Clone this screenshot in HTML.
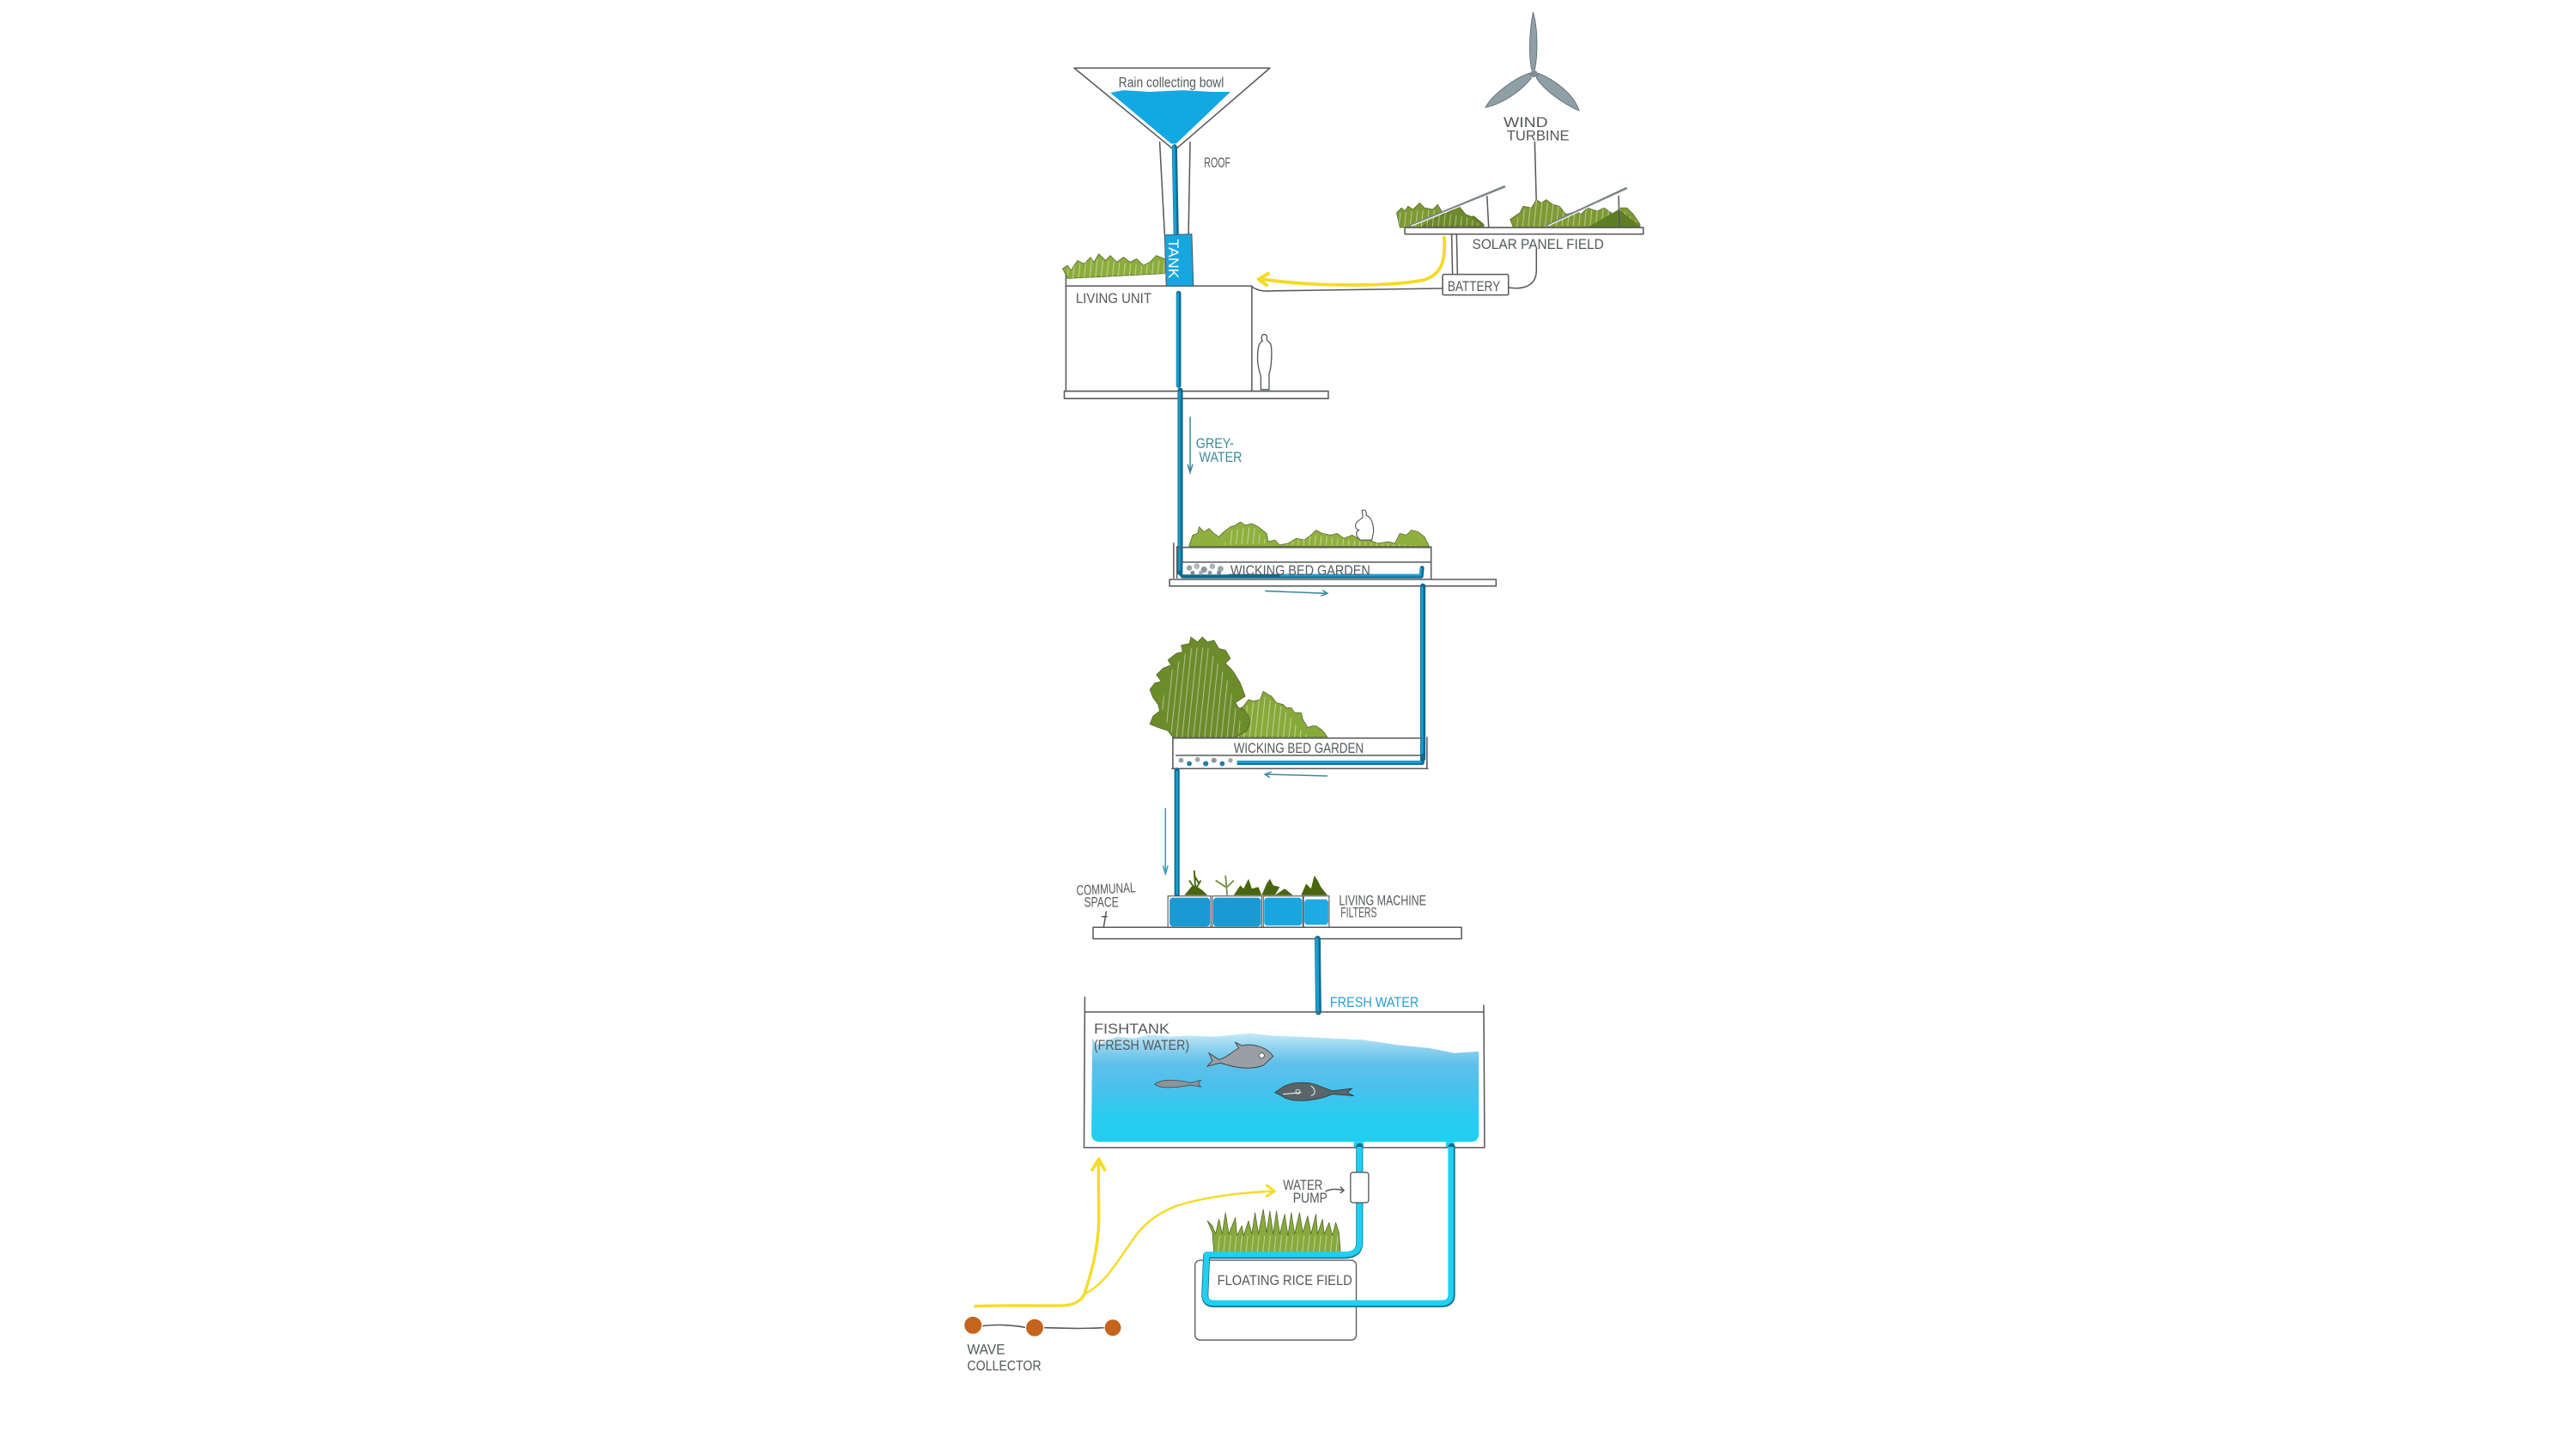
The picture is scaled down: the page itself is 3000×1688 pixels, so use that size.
<!DOCTYPE html>
<html lang="en">
<head>
<meta charset="utf-8">
<title>Water and energy cycle section</title>
<style>
html,body{margin:0;padding:0;background:#fff;width:3000px;height:1688px;overflow:hidden}
svg{display:block}
text{font-family:"Liberation Sans",sans-serif;fill:#55595c;font-size:8.5px}
.ln{fill:none;stroke:#55595c;stroke-width:.8;stroke-linejoin:round;stroke-linecap:round}
.box{fill:#fff;stroke:#55595c;stroke-width:.8;stroke-linejoin:round}
.leaf{stroke:#4c5a24;stroke-width:.35;stroke-linejoin:round}
.hatch{fill:url(#hatch);stroke:none}
.pipeo{fill:none;stroke:#0f6a8e;stroke-linecap:round;stroke-linejoin:round}
.pipei{fill:none;stroke:#1a9ed2;stroke-linecap:round;stroke-linejoin:round}
</style>
</head>
<body>
<svg xmlns="http://www.w3.org/2000/svg" width="3000" height="1688" viewBox="1 0.7 1566 881">
<defs>
<pattern id="hatch" width="3.4" height="40" patternUnits="userSpaceOnUse" patternTransform="rotate(6)">
<line x1="1" y1="0" x2="1" y2="40" stroke="#fff" stroke-width=".5" stroke-opacity=".5"/>
</pattern>
<linearGradient id="water" x1="0" y1="0" x2="0" y2="1">
<stop offset="0" stop-color="#c6e9f7"/>
<stop offset=".12" stop-color="#93d4f0"/>
<stop offset=".28" stop-color="#5fc0ea"/>
<stop offset=".48" stop-color="#4cc0ec"/>
<stop offset=".75" stop-color="#2bcbef"/>
<stop offset="1" stop-color="#1fd0f0"/>
</linearGradient>
</defs>

<rect x="0" y="0" width="1568" height="883" fill="#fff"/>

<!-- rain bowl -->
<g>
<path class="ln" d="M706,87 L709,143 M724.5,87 L723.5,143"/>
<polygon class="box" points="654,42 773,42 715,92"/>
<polygon points="676,57 684,55.5 700,56.5 720,55.5 738,56.5 749,56.5 716,88 713,88" fill="#12a8e2"/>
<path class="pipeo" stroke-width="3.2" d="M715,90 L716,143"/>
<path class="pipei" stroke-width="1.7" d="M714.5,90 L715.5,143"/>
<text x="681" y="53.5" textLength="64" lengthAdjust="spacingAndGlyphs" font-size="8">Rain collecting bowl</text>
<text x="733" y="102.5" textLength="16" lengthAdjust="spacingAndGlyphs">ROOF</text>
</g>

<!-- wind turbine -->
<g>
<path d="M933,8 C936,18 936,34 934,43 L932,43 C930,32 931,18 933,8Z" fill="#8f9fa6" stroke="#5a666b" stroke-width=".4"/>
<path d="M904,66 C908,58 922,48 931,45 L932,48 C926,56 914,64 904,66Z" fill="#8f9fa6" stroke="#5a666b" stroke-width=".4"/>
<path d="M961,68 C952,64 940,56 935,48 L936,45 C946,49 958,58 961,68Z" fill="#8f9fa6" stroke="#5a666b" stroke-width=".4"/>
<circle cx="933.5" cy="45.5" r="2.2" fill="#7f8e94"/>
<text x="915" y="78" textLength="27" lengthAdjust="spacingAndGlyphs" font-size="10">WIND</text>
<text x="917" y="86" textLength="38" lengthAdjust="spacingAndGlyphs" font-size="10">TURBINE</text>
<path class="ln" d="M934,87 L935,124"/>
</g>

<!-- solar field -->
<g>
<polygon class="leaf" fill="#7d9a33" points="850,130 853,127 855,129 857,126 860,128 864,124 867,127 872,128 875,125 878,130 884,131 889,128 893,133 897,132 903,137 903,139 852,139"/>
<polygon class="leaf" fill="#6d8a2c" points="866,138 888,126 892,131 897,133 903,138"/>
<polygon class="leaf" fill="#7d9a33" points="919,134 925,130 927,126 932,127 935,122 938,124 941,122 945,125 949,126 953,131 960,129 962,131 966,127 972,129 976,127 982,131 986,127 990,127 994,131 998,137 998,139 921,139"/>
<polygon class="hatch" points="850,130 872,128 878,130 884,131 893,133 903,138 852,139"/>
<polygon class="hatch" points="925,130 935,122 949,126 960,129 976,127 986,127 998,137 921,139"/>
<polygon fill="#5f7d25" points="966,139 985,128 998,138 998,139"/>
<path d="M858,138 L916,114" stroke="#7c8487" stroke-width="1.5" fill="none"/>
<path d="M941,138 L990,115" stroke="#7c8487" stroke-width="1.5" fill="none"/>
<path d="M859,138 L916,115 M942,138 L990,116" stroke="#fff" stroke-width=".6" fill="none"/>
<path class="ln" d="M905,120 L906,139 M985,120 L985.5,139"/>
<rect class="box" x="855" y="139" width="145" height="4"/>
<text x="896" y="152" textLength="80" lengthAdjust="spacingAndGlyphs" font-size="9.5">SOLAR PANEL FIELD</text>
<path class="ln" d="M883.5,143 L884,167 M886.5,143 L887,167"/>
<rect class="box" x="878" y="167.5" width="40" height="12.5" rx=".8"/>
<text x="881" y="177.5" textLength="32" lengthAdjust="spacingAndGlyphs" font-size="9">BATTERY</text>
<path class="ln" d="M918,175.5 C928,177 935,174 935,165 L935,152"/>
<path class="ln" d="M878,176 L775,177.5 C768,178 765,177 762,175"/>
<path d="M879,145 C880,160 877,168 866,171 C845,175 800,175 769,170.5" fill="none" stroke="#f4da27" stroke-width="2" stroke-linecap="round"/>
<path d="M772,167 L766,170.5 L771,174" fill="none" stroke="#f4da27" stroke-width="2" stroke-linecap="round" stroke-linejoin="round"/>
</g>

<!-- living unit -->
<g>
<polygon class="leaf" fill="#8bad3c" points="647,164 650,162 652,165 656,159 660,161 664,157 666,160 669,155 673,159 676,156 680,160 684,157 688,160 692,158 696,162 700,160 704,156 709,158 709,167 650,170"/>
<polygon class="hatch" points="650,164 664,158 680,160 696,162 709,158 709,167 650,170"/>
<path class="ln" d="M649,168 L649,175"/>
<rect class="box" x="649" y="174.5" width="113" height="64.5"/>
<path d="M709,143.5 L725.5,143 L726.5,174.5 L710,174.5Z" fill="#18a6e0" stroke="#3f5560" stroke-width=".5"/>
<text transform="translate(711.5,146) rotate(90)" font-size="10" textLength="24" lengthAdjust="spacingAndGlyphs" style="fill:#fff">TANK</text>
<text x="655" y="185" textLength="46" lengthAdjust="spacingAndGlyphs" font-size="9">LIVING UNIT</text>
<path class="pipeo" stroke-width="3" d="M717.5,179 L717.5,235"/>
<path class="pipei" stroke-width="1.5" d="M717,179.5 L717,235"/>
<path d="M769.5,204 C768,204 767.5,206 768.5,208 C766,209 765.5,213 765.5,219 C765.5,224 767,227 767.5,230 L767.5,237.5 L772.5,237.5 L772.5,228 C774,224 774.5,214 773.5,210 C772.5,208 771,208 771,207 C771.5,205 771,204 769.5,204Z" fill="#fff" stroke="#55595c" stroke-width=".7"/>
<rect class="box" x="648" y="238.5" width="160.5" height="4.5"/>
</g>

<!-- greywater pipe -->
<g>
<path class="pipeo" stroke-width="3.2" d="M718.5,238 L718.5,349"/>
<path class="pipei" stroke-width="1.2" d="M718,239 L718,347"/>
<path d="M724.5,254 L724.5,287 M723,283 L724.5,288 L726,283" fill="none" stroke="#3d8a9c" stroke-width=".8"/>
<text x="728" y="273" textLength="23" lengthAdjust="spacingAndGlyphs" font-size="9.5" style="fill:#3d8a9c">GREY-</text>
<text x="730" y="281.5" textLength="26" lengthAdjust="spacingAndGlyphs" font-size="9.5" style="fill:#3d8a9c">WATER</text>
</g>

<!-- wicking bed 1 -->
<g>
<polygon class="leaf" fill="#8fb03e" points="724,332 726,326 729,325 730,321 733,324 736,322 739,325 742,327 745,324 749,321 752,320 755,318 758,320 762,319 766,321 771,325 772,330 776,329 779,332 784,331 789,328 794,329 798,326 801,323 805,325 810,326 814,325 818,328 823,326 828,329 833,329 839,331 845,330 849,331 852,325 856,326 859,323 863,324 867,327 869,331 870,333 724,333"/>
<polygon class="hatch" points="745,332 750,323 763,321 772,331"/>
<polygon class="hatch" points="780,332 800,326 829,330 870,333"/>
<path d="M829,311 C831,310 832,312 831.5,314 C835,315 836,320 836,324 L835,329 L828,329 C825,327 825,324 827,323 C824,322 825,319 826,318 C827,317 829,316 829.5,315 Z" fill="#fff" stroke="#55595c" stroke-width=".6"/>
<path class="ln" d="M716.5,333 L716.5,352 M714.5,331 L714.5,352 M871,333 L871,353"/>
<path class="ln" stroke-width="1" d="M716.5,333.5 L871,333.5"/>
<path class="ln" d="M719,342.5 L871,342.5"/>
<path class="pipeo" stroke-width="2.6" d="M718.5,349 L720,351 L865,351 L865.5,346"/>
<path class="pipei" stroke-width="1.4" d="M780,350.5 L864.5,350.5 L864.8,346.5"/>
<g>
<rect x="720" y="343" width="28" height="7" fill="#fff"/>
<circle cx="724" cy="346" r="1.7" fill="#9aa5a9"/><circle cx="728.5" cy="345" r="1.8" fill="#b2babd"/><circle cx="733" cy="347" r="1.9" fill="#8d979b"/><circle cx="738" cy="345" r="1.7" fill="#a8b1b4"/><circle cx="743" cy="346.5" r="1.8" fill="#9aa5a9"/><circle cx="726" cy="349" r="1.3" fill="#7b8a90"/><circle cx="731" cy="349" r="1.3" fill="#a3adb1"/><circle cx="736.5" cy="349" r="1.3" fill="#8d979b"/><circle cx="742" cy="349" r="1.3" fill="#7b8a90"/>
</g>
<text x="749" y="350.5" textLength="85" lengthAdjust="spacingAndGlyphs" font-size="9.5">WICKING BED GARDEN</text>
<rect class="box" x="712" y="353" width="198.5" height="4"/>
<path d="M770,360 L808,361.5 M804,363 L808,361.5 L805,359.5" fill="none" stroke="#3d8a9c" stroke-width=".8"/>
</g>

<path class="pipeo" stroke-width="3.2" d="M866,357 L866,462"/>
<path class="pipei" stroke-width="1.4" d="M865.5,358 L865.5,461"/>

<!-- wicking bed 2 -->
<g>
<polygon class="leaf" fill="#87a93a" points="748,449 752,441 754,432 757,430 760,426 763,427 767,426 769,421 772,423 774,424 777,428 781,429 783,431 786,431 788,434 792,434 793,438 796,443 799,442 801,442 804,444 806,446 808,449"/>
<polygon class="hatch" points="752,449 757,431 769,424 781,431 790,443 797,449"/>
<polygon class="leaf" fill="#6c8c2b" points="714,449 711,445 705,443 700,441 702,436 706,433 705,429 702,425 700,420 703,416 707,415 704,411 708,407 713,405 711,402 716,398 720,397 719,393 724,392 725,388 729,391 732,388 735,391 739,390 742,395 746,396 749,401 746,404 750,408 752,411 755,416 758,424 752,428 754,431 757,432 760,436 761,440 759,445 752,449"/>
<polygon class="hatch" points="712,445 707,430 712,410 724,395 735,394 742,405 748,416 752,431 757,445 750,449 716,449"/>
<path class="ln" d="M714,449 L714,468 M868.5,449 L868.5,468"/>
<path class="ln" stroke-width="1" d="M714,449.5 L865,449.5"/>
<path class="ln" d="M716,460 L866,460"/>
<path class="ln" d="M713.5,468 L869,468"/>
<path class="pipeo" stroke-width="2.6" d="M750,464.5 L865.5,464.5 L866,460"/>
<path class="pipei" stroke-width="1.6" d="M750,464 L864.5,464"/>
<g>
<rect x="716" y="460.5" width="37" height="6.5" fill="#fff"/>
<circle cx="719" cy="463" r="1.5" fill="#8fa0a6"/><circle cx="724" cy="465" r="1.5" fill="#1f7f9f"/><circle cx="729" cy="462.5" r="1.5" fill="#9aa5a9"/><circle cx="734" cy="465" r="1.6" fill="#1f7f9f"/><circle cx="739" cy="463" r="1.6" fill="#8d979b"/><circle cx="744" cy="465" r="1.5" fill="#1f7f9f"/><circle cx="749" cy="463" r="1.4" fill="#9aa5a9"/>
</g>
<text x="751" y="458.5" textLength="79" lengthAdjust="spacingAndGlyphs" font-size="9.5">WICKING BED GARDEN</text>
<path d="M808,472.5 L770,471.5 M774,470 L770,471.5 L773,473.5" fill="none" stroke="#3d8a9c" stroke-width=".8"/>
<path class="pipeo" stroke-width="3.2" d="M716.5,469 L716.5,545"/>
<path class="pipei" stroke-width="1.4" d="M716.5,470 L716.5,544"/>
<path d="M709.5,492 L709.5,531 M708,527 L709.5,532 L711,527" fill="none" stroke="#3c9ab8" stroke-width=".8"/>
</g>

<!-- filters -->
<g>
<g>
<path d="M727,530 L728,545 M724,536 L728,542 M731,536 L728,541 M727,533 L730,538" fill="none" stroke="#48650f" stroke-width="1"/>
<polygon fill="#48650f" points="721,545 726,539 729,540 732,542 735,545"/>
<path d="M746,533 L747,545 M740,536 L746,540 M751,536 L747,540" fill="none" stroke="#6b8a3a" stroke-width=".9"/>
<polygon fill="#48650f" points="751,545 755,539 757,541 760,535 762,541 766,540 768,545"/>
<polygon fill="#48650f" points="768,545 771,538 773,535 775,539 779,540 776,545 782,541 787,545"/>
<polygon fill="#48650f" points="792,545 795,538 798,541 800,533 802,536 804,540 808,545"/>
</g>
<rect x="711" y="545.5" width="26" height="19" fill="#fff" stroke="#55595c" stroke-width=".6"/>
<rect x="738" y="545.5" width="30" height="19" fill="#fff" stroke="#55595c" stroke-width=".6"/>
<rect x="769" y="545.5" width="24" height="19" fill="#fff" stroke="#55595c" stroke-width=".6"/>
<rect x="793.5" y="545.5" width="15.5" height="19" fill="#fff" stroke="#55595c" stroke-width=".6"/>
<rect x="712" y="546.5" width="24.5" height="17.5" rx="2" fill="#1a9ad2"/>
<rect x="738.5" y="546.5" width="29" height="17.5" rx="2" fill="#1a9ad2"/>
<rect x="769.5" y="546.5" width="23" height="17" rx="2" fill="#19a6de"/>
<rect x="794" y="547.5" width="14.5" height="15.5" rx="2" fill="#1eaae2"/>
<rect class="box" x="665.5" y="564.5" width="224" height="7"/>
<text x="815" y="551" textLength="53" lengthAdjust="spacingAndGlyphs" font-size="8">LIVING MACHINE</text>
<text x="816" y="558.5" textLength="22" lengthAdjust="spacingAndGlyphs" font-size="8">FILTERS</text>
<text transform="translate(655.5,545) rotate(-3)" textLength="36" lengthAdjust="spacingAndGlyphs" font-size="7.5">COMMUNAL</text>
<text x="660" y="552" textLength="21" lengthAdjust="spacingAndGlyphs" font-size="7.5">SPACE</text>
<path class="ln" d="M672,564 L673.5,555 M671,558 L674,558"/>
</g>

<!-- fresh water pipe -->
<g>
<path class="pipeo" stroke-width="3.6" d="M802,571.5 L802.5,616"/>
<path class="pipei" stroke-width="2" d="M801.5,572 L802,616"/>
<text x="809.5" y="613" textLength="54" lengthAdjust="spacingAndGlyphs" font-size="9.5" style="fill:#2a9fcf">FRESH WATER</text>
</g>

<!-- fish tank -->
<g>
<path d="M665,632 L668,636 L680,631 L690,632 L700,630 L712,631 L725,630.5 L740,631 L760,629 L775,630.5 L790,631 L810,632 L830,633 L850,636 L870,638 L885,641 L900,640 L900,690 Q900,695 895,695 L670,695 Q664.5,695 664.5,690 Z" fill="url(#water)"/>
<path d="M660.5,607 L660,698.5 L903.5,698.5 L903,612 M660.5,616 L903,616" class="ln"/>
<path d="M824,695 L830,695 L830,698 L824,698Z M880,695 L885,695 L885,698 L880,698Z" fill="#1fd0f0"/>
<text x="666" y="629" textLength="46" lengthAdjust="spacingAndGlyphs" font-size="9.5">FISHTANK</text>
<text x="666" y="639" textLength="58" lengthAdjust="spacingAndGlyphs" font-size="9.5">(FRESH WATER)</text>
<path d="M775,643 C771,637 762,635 756,636.5 L752,634.5 L754,638 C749,641 746,644 742,645 L736,641 L738,645.5 L735,649 L743,647 C749,649 760,652 769,648.5 Z" fill="#9a9fa4" stroke="#3f4548" stroke-width=".5"/>
<circle cx="768" cy="642.5" r="1.6" fill="#fff" stroke="#3f4548" stroke-width=".4"/>
<path d="M703,660 C707,656.5 716,657 725,659 L731,657.5 L729.5,660 L731,661.5 L725,660.5 C716,662 707,663 703,660Z" fill="#8a959a" stroke="#3f4548" stroke-width=".4"/>
<path d="M776,665 L779,663 C785,658 796,658 803,661 L811,664 L823,662.5 L820,665 L824,667 L811,666 C802,670 787,672 780,667 Z" fill="#5a6569" stroke="#2f3639" stroke-width=".4"/>
<path d="M781,666 L792,665 M798,661 C801,663 801,666 798,667" fill="none" stroke="#fff" stroke-width=".5"/>
<circle cx="790" cy="664.5" r="1.3" fill="none" stroke="#fff" stroke-width=".4"/>
</g>

<!-- rice field -->
<g>
<rect x="727.5" y="767" width="98" height="48.5" rx="3" fill="#fff" stroke="#55595c" stroke-width=".7"/>
<polygon class="leaf" fill="#88a93c" points="739,763 738,750 735,743 738,746 740,751 742,742 744,751 746,738 748,751 752,741 753,752 756,746 757,752 760,743 762,751 764,738 766,751 769,736 771,750 773,737 775,751 777,737 779,751 782,739 784,752 786,738 788,751 791,738 793,750 796,740 798,751 801,739 802,751 805,742 806,751 809,744 811,752 813,744 815,750 816,763"/>
<polygon class="hatch" points="739,763 740,752 815,752 816,763"/>
<path class="pipeo" stroke-width="4.2" d="M827.5,698 L827.5,756 Q827.5,764 818,764 L734.5,764 L733.5,788 Q733.5,793.5 739,793.5 L877,793.5 Q883.5,793.5 883.5,788 L883.5,698"/>
<path fill="none" stroke="#1fd0ef" stroke-width="3.4" stroke-linejoin="round" d="M827.5,698 L827.5,756 Q827.5,763.5 818,763.5 L734.5,763.5 L733.5,788 Q733.5,793 739,793 L877,793 Q883,793 883,788 L883,698"/>
<rect x="822" y="713.5" width="11" height="18.5" rx="1.5" fill="#fff" stroke="#55595c" stroke-width=".7"/>
<text x="781" y="724" textLength="24" lengthAdjust="spacingAndGlyphs" font-size="8">WATER</text>
<text x="787" y="732" textLength="21" lengthAdjust="spacingAndGlyphs" font-size="8">PUMP</text>
<path class="ln" stroke-width=".6" d="M807,725 C810,723.5 814,723.5 818,724.5 M816,722.5 L818,724.5 L816,726"/>
<text x="741" y="782" textLength="82" lengthAdjust="spacingAndGlyphs" font-size="10">FLOATING RICE FIELD</text>
</g>

<!-- wave collector -->
<g>
<path d="M594,795 C610,794 630,795 648,794.5 C656,794 660,790 661,785 C666,770 669,755 669,741 C669,730 668.5,718 669,707" fill="none" stroke="#f5dc2a" stroke-width="1.8" stroke-linecap="round"/>
<path d="M665,712 L669,705.5 L672.5,712" fill="none" stroke="#f5dc2a" stroke-width="2" stroke-linecap="round" stroke-linejoin="round"/>
<path d="M661,787 C672,782 680,768 688,757 C696,744 706,738 716,734 C735,728 755,726 775,725" fill="none" stroke="#f5dc2a" stroke-width="1.3" stroke-linecap="round"/>
<path d="M771,721.5 L776,725 L771,728" fill="none" stroke="#f5dc2a" stroke-width="1.5" stroke-linecap="round" stroke-linejoin="round"/>
<path class="ln" d="M598,807 C605,806 615,806 625,808 M635,808 C645,808 655,809 672,808"/>
<circle cx="592.5" cy="806.5" r="5.5" fill="#c5641d" stroke="#fff" stroke-width=".6"/>
<circle cx="630" cy="808" r="5.5" fill="#c5641d" stroke="#fff" stroke-width=".6"/>
<circle cx="677.5" cy="808" r="5.2" fill="#c5641d" stroke="#fff" stroke-width=".6"/>
<text x="589" y="824" textLength="23" lengthAdjust="spacingAndGlyphs" font-size="9.5">WAVE</text>
<text x="589" y="834" textLength="45" lengthAdjust="spacingAndGlyphs" font-size="9.5">COLLECTOR</text>
</g>
</svg>
</body>
</html>
